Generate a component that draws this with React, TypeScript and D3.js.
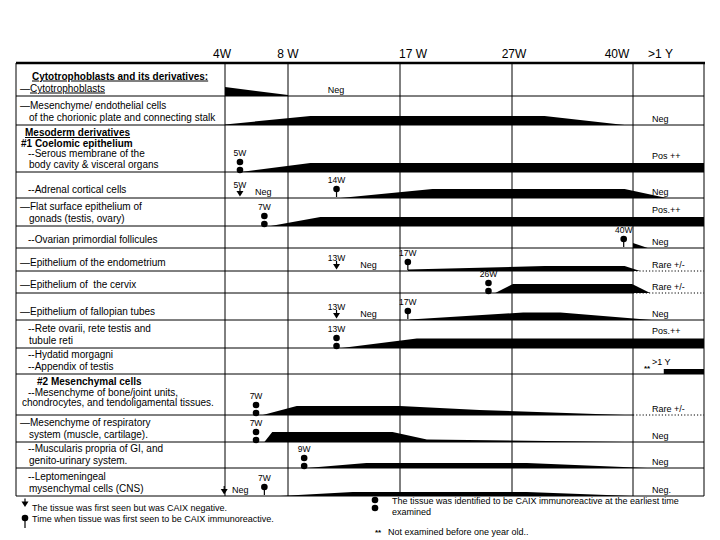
import * as d3 from 'd3'

// time axis (weeks of gestation), last column is ">1 Y"
const tickWeeks = [4, 8, 17, 27, 40]
const tickLabels = ['4W', '8 W', '17 W', '27W', '40W', '>1 Y']

const tissues: string[][] = [
  ['Cytotrophoblasts and its derivatives:', '—Cytotrophoblasts'],
  ['—Mesenchyme/ endothelial cells', 'of the chorionic plate and connecting stalk'],
  ['Mesoderm derivatives', '#1 Coelomic epithelium', '--Serous membrane of the', 'body cavity & visceral organs'],
  ['--Adrenal cortical cells'],
  ['—Flat surface epithelium of', 'gonads (testis, ovary)'],
  ['--Ovarian primordial follicules'],
  ['—Epithelium of the endometrium'],
  ['—Epithelium of  the cervix'],
  ['—Epithelium of fallopian tubes'],
  ['--Rete ovarii, rete testis and', 'tubule reti'],
  ['--Hydatid morgagni', '--Appendix of testis'],
  ['#2 Mesenchymal cells', '--Mesenchyme of bone/joint units,', 'chondrocytes, and tendoligamental tissues.'],
  ['—Mesenchyme of respiratory', 'system (muscle, cartilage).'],
  ['--Muscularis propria of GI, and', 'genito-urinary system.'],
  ['--Leptomeningeal', 'mysenchymal cells (CNS)'],
]

// [week, staining intensity] profiles, one per tissue row
const expression: [number, number][][] = [
  [[4, 9], [8, 1]],
  [[4, 0.5], [9.8, 9], [30.5, 9], [39.1, 0]],
  [[5, 0], [9.8, 9], [52, 9]],
  [[12.2, 0], [19.9, 9], [39.1, 9], [45.7, 0]],
  [[6.9, 0], [10.6, 9], [52, 9]],
  [[40, 5], [42.5, 0]],
  [[17.7, 1.5], [30.5, 5], [39.1, 5], [41.2, 0]],
  [[25.5, 0], [27.1, 9], [39.9, 9], [42.9, 0]],
  [[17.9, 0.5], [28.2, 7.5], [32.2, 7.5], [43.2, 0]],
  [[12.3, 0], [18.5, 9.5], [52, 9.5]],
  [[45.2, 5], [52, 5]],
  [[6.4, 0], [8.7, 9], [17, 9], [24.1, 5], [39.1, 0]],
  [[6.5, 0], [7, 10], [16.4, 10], [19.4, 2.5], [39.1, 0]],
  [[9.5, 0], [14.3, 5], [28.6, 5], [42.4, 0]],
  [[7.5, 0], [13.2, 4], [28.6, 4], [40, 0]],
]

// first seen, CAIX negative
const negativeAt = [
  { row: 3, week: 4.95, label: '5W' },
  { row: 6, week: 11.9, label: '13W' },
  { row: 8, week: 11.9, label: '13W' },
  { row: 14, week: 3.95, label: '' },
]
// first seen CAIX immunoreactive
const positiveAt = [
  { row: 3, week: 11.9, label: '14W' },
  { row: 5, week: 39, label: '40W' },
  { row: 6, week: 17.7, label: '17W' },
  { row: 8, week: 17.7, label: '17W' },
  { row: 14, week: 6.5, label: '7W' },
]
// immunoreactive at earliest time examined
const earliestAt = [
  { row: 2, week: 4.95, label: '5W' },
  { row: 4, week: 6.5, label: '7W' },
  { row: 7, week: 24.9, label: '26W' },
  { row: 9, week: 11.9, label: '13W' },
  { row: 11, week: 5.97, label: '7W' },
  { row: 12, week: 5.97, label: '7W' },
  { row: 13, week: 9.3, label: '9W' },
]
const negNotes = [
  { row: 0, week: 11.2 },
  { row: 3, week: 5.9 },
  { row: 6, week: 13.8 },
  { row: 8, week: 13.8 },
  { row: 14, week: 4.45 },
]
const outcomes = ['', 'Neg', 'Pos ++', 'Neg', 'Pos.++', 'Neg', 'Rare +/-', 'Rare +/-', 'Neg', 'Pos.++', '>1 Y', 'Rare +/-', 'Neg', 'Neg', 'Neg.']
const notExaminedRow = 10

const legendNotes = [
  'The tissue was first seen but was CAIX negative.',
  'Time when tissue was first seen to be CAIX immunoreactive.',
  'The tissue was identified to be CAIX immunoreactive at the earliest time',
  'examined',
  'Not examined before one year old..',
]

// layout
const rowHeights = [33, 29, 47, 26, 28, 22, 23, 22, 27, 28, 26, 41, 27, 26, 28]
const FONT = '"Liberation Sans", Arial, sans-serif'

const indentOf = (s: string) => {
  if (s.startsWith('—')) return 20
  if (s.startsWith('--')) return 28
  if (s.startsWith('#1')) return 21
  if (s.startsWith('#2')) return 37
  if (s.startsWith('Mesoderm')) return 25
  if (s.startsWith('Cytotrophoblasts')) return 32
  if (s.startsWith('chondro')) return 22
  return 29
}
const isHeading = (s: string) => s.startsWith('#') || s === 'Mesoderm derivatives' || s.startsWith('Cytotrophoblasts and')

const Arrow = ({ cx, tip }: { cx: number, tip: number }) => (
  <g>
    <line x1={cx} x2={cx} y1={tip - 8.5} y2={tip - 5} stroke='#000' strokeWidth={1.2} />
    <path d={`M${cx - 3.5},${tip - 5.5}L${cx + 3.5},${tip - 5.5}L${cx},${tip}Z`} fill='#000' />
  </g>
)
const Pin = ({ cx, cy, end }: { cx: number, cy: number, end: number }) => (
  <g>
    <line x1={cx} x2={cx} y1={cy} y2={end} stroke='#000' strokeWidth={1.2} />
    <circle cx={cx} cy={cy} r={3.3} fill='#000' />
  </g>
)
const DoubleDot = ({ cx, cy }: { cx: number, cy: number }) => (
  <g>
    <circle cx={cx} cy={cy - 8} r={3.3} fill='#000' />
    <circle cx={cx} cy={cy} r={3.3} fill='#000' />
  </g>
)

export default function App() {
  const left = 16
  const right = 704
  const top = 63
  const x = d3.scaleLinear().domain([...tickWeeks, 52]).range([225, 288, 400, 512, 633, right])
  const thick = d3.scaleLinear().domain([0, 10]).range([0, 10])
  const bounds = [top, ...Array.from(d3.cumsum(rowHeights), h => top + h)]
  const bottom = bounds[bounds.length - 1]
  const rowBottom = (r: number) => bounds[r + 1]

  const tickShift = [-3, 0, 13, 2, -16]

  const lineY = (r: number, i: number, n: number) => {
    const t = bounds[r]
    const b = bounds[r + 1]
    if (n === 1) return b - 5
    if (n === 2) return b - 4.5 - (1 - i) * 12
    return t + 11 + i * 10.5
  }

  return (
    <svg width={720} height={540} style={{ position: 'absolute', left: 0, top: 0, background: '#fff' }} fontFamily={FONT}>
      <rect width={720} height={540} fill='#fff' />

      {/* header */}
      {tickWeeks.map((w, i) => (
        <text key={w} x={x(w) + tickShift[i]} y={58} fontSize={12} textAnchor='middle'>{tickLabels[i]}</text>
      ))}
      <text x={(x(40) + x(52)) / 2 - 8} y={58} fontSize={12} textAnchor='middle'>{tickLabels[5]}</text>

      {/* grid */}
      {bounds.slice(1).map((y, i) => {
        const dotted = outcomes[i].startsWith('Rare')
        return (
          <g key={'h' + i}>
            <line x1={left} x2={dotted ? x(40) : right} y1={y} y2={y} stroke='#000' strokeWidth={1} />
            {dotted && <line x1={x(40)} x2={right} y1={y} y2={y} stroke='#000' strokeWidth={1} strokeDasharray='1.2,2' />}
          </g>
        )
      })}
      {[left, ...tickWeeks.map(w => x(w)), right].map((vx, i) => (
        <line key={'v' + i} x1={vx} x2={vx} y1={top} y2={bottom} stroke='#000' strokeWidth={1} />
      ))}
      <line x1={left} x2={right + 1} y1={top} y2={top} stroke='#000' strokeWidth={2.5} />

      {/* expression bands */}
      {expression.map((pts, r) => {
        const b = rowBottom(r)
        const area = d3.area<[number, number]>()
          .x(d => x(d[0]))
          .y0(b)
          .y1(d => b - thick(d[1]))
        return <path key={'a' + r} d={area(pts) ?? ''} fill='#000' />
      })}

      {/* markers */}
      {negativeAt.map((m, i) => {
        const b = rowBottom(m.row)
        return (
          <g key={'n' + i}>
            <Arrow cx={x(m.week)} tip={b - 1.5} />
            {m.label && <text x={x(m.week)} y={b - 10} fontSize={8.5} textAnchor='middle'>{m.label}</text>}
          </g>
        )
      })}
      {positiveAt.map((m, i) => {
        const b = rowBottom(m.row)
        return (
          <g key={'p' + i}>
            <Pin cx={x(m.week)} cy={b - 9} end={b - 1} />
            <text x={x(m.week)} y={b - 15} fontSize={8.5} textAnchor='middle'>{m.label}</text>
          </g>
        )
      })}
      {earliestAt.map((m, i) => {
        const b = rowBottom(m.row)
        return (
          <g key={'e' + i}>
            <DoubleDot cx={x(m.week)} cy={b - 2} />
            <text x={x(m.week)} y={b - 16} fontSize={8.5} textAnchor='middle'>{m.label}</text>
          </g>
        )
      })}
      {negNotes.map((n, i) => (
        <text key={'nn' + i} x={x(n.week)} y={rowBottom(n.row) - 3.5} fontSize={9}>Neg</text>
      ))}

      {/* outcome after one year */}
      {outcomes.map((o, r) => {
        if (!o) return null
        const pts = expression[r]
        const last = pts[pts.length - 1]
        const endT = last[0] >= 52 ? thick(last[1]) : 0
        const y = rowBottom(r) - 3 - (endT > 0 ? endT + 1.5 : 0)
        return <text key={'o' + r} x={x(40) + 19} y={y} fontSize={9}>{o}</text>
      })}
      <text x={x(40) + 11} y={rowBottom(notExaminedRow) - 3} fontSize={8} fontWeight='bold'>**</text>

      {/* tissue labels */}
      {tissues.map((lines, r) => lines.map((s, i) => {
        const y = lineY(r, i, lines.length)
        const head = isHeading(s)
        const underline = s === 'Mesoderm derivatives' || s.startsWith('Cytotrophoblasts and')
        if (s === '—Cytotrophoblasts') {
          return (
            <text key={r + '-' + i} x={indentOf(s)} y={y} fontSize={10}>
              —<tspan textDecoration='underline'>Cytotrophoblasts</tspan>
            </text>
          )
        }
        return (
          <text key={r + '-' + i} x={indentOf(s)} y={y} fontSize={10}
            fontWeight={head ? 'bold' : 'normal'}
            textDecoration={underline ? 'underline' : undefined}
            style={{ whiteSpace: 'pre' }}>{s}</text>
        )
      }))}

      {/* legend */}
      <Arrow cx={25} tip={507} />
      <text x={32} y={511} fontSize={9}>{legendNotes[0]}</text>
      <Pin cx={25} cy={518} end={528} />
      <text x={32} y={521.5} fontSize={9}>{legendNotes[1]}</text>
      <DoubleDot cx={375} cy={508} />
      <text x={392} y={504} fontSize={9}>{legendNotes[2]}</text>
      <text x={392} y={515} fontSize={9}>{legendNotes[3]}</text>
      <text x={375} y={535} fontSize={8} fontWeight='bold'>**</text>
      <text x={388} y={535} fontSize={9}>{legendNotes[4]}</text>
    </svg>
  )
}
